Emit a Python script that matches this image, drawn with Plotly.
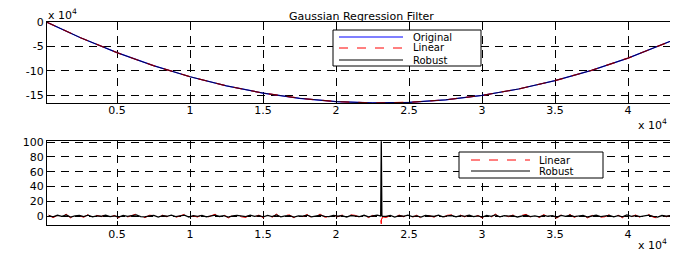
import numpy as np
import plotly.graph_objects as go

# ---- data ----
# Top panel: signal (units of 1e4) vs sample position
top_x = [200, 2500, 5000, 7500, 10000, 12500, 15000, 17500, 20000, 22500,
         25000, 27500, 30000, 32500, 35000, 37500, 40000, 42500, 43500]
original = [0.0, -3.18, -6.25, -8.93, -11.20, -13.08, -14.56, -15.63, -16.31, -16.59,
            -16.47, -15.95, -15.04, -13.72, -12.00, -9.89, -7.37, -4.46, -3.20]
linear_top = list(original)
robust_top = list(original)

# Bottom panel: residual noise sampled on a regular grid
res_start = 320
res_step = 300
robust_res = [
    0.6, -0.9, 1.1, -0.3, 1.5, -1.3, 0.2, 0.8, -0.7, 1.2,
    -1.1, 0.4, -0.2, 1.4, -0.8, 0.3, -1.2, 0.9, -0.4, 0.7,
    1.6, -0.6, -1.0, 0.4, 0.9, -1.4, 0.5, -0.2, 1.2, -0.7,
    0.2, 1.3, -1.2, 0.7, -0.4, 1.0, -0.9, 0.1, 1.4, -0.5,
    0.7, -1.4, 0.4, 1.1, -0.2, -0.8, 1.2, -0.3, 0.6, -1.1,
    0.9, -0.7, 1.6, -0.9, 0.2, 0.7, -1.3, 0.4, -0.1, 1.2,
    -1.0, 0.5, 1.4, -0.4, -0.7, 0.9, -0.2, 0.7, -1.2, 0.8,
    0.3, -0.6, 1.1, -0.9, 0.2, 1.3, 0.4, -0.4, 0.9, -1.2,
    0.7, -0.2, 1.2, -0.8, 0.4, -1.4, 0.9, 0.1, -0.5, 1.4,
    -0.9, 0.4, 0.8, -1.1, 0.6, -0.3, 1.2, -0.7, 0.2, -1.3,
    1.0, -0.4, 1.5, -0.9, 0.5, -0.1, 0.7, -1.2, 0.3, 1.3,
    -0.7, 0.2, -1.0, 1.1, -0.2, 0.7, -1.5, 0.9, -0.4, 1.2,
    -0.7, 0.4, 0.9, -1.2, 0.1, 1.4, -0.6, -0.2, 1.0, -0.9,
    0.5, -1.1, 1.6, -0.3, 0.7, -0.8, 0.4, 1.2, -0.5, -1.4,
    0.8, -0.2, 0.6, -1.0, 1.1,
]
linear_res = [
    1.5, -2.1, 0.9, -1.0, 2.6, -2.4, 1.2, 0.4, -1.6, 2.2,
    -2.0, 1.1, -0.8, 2.5, -1.7, 0.9, -2.3, 1.8, -1.2, 0.3,
    2.8, -1.5, -2.0, 1.2, 0.7, -2.6, 1.3, -1.0, 2.1, -1.7,
    0.8, 2.4, -2.2, 0.2, -1.3, 2.0, -2.0, 0.7, 2.6, -1.4,
    1.6, -2.5, 1.2, 2.1, -0.9, -1.8, 2.3, -1.1, 1.4, -2.2,
    1.8, -1.6, 2.7, -1.9, 0.9, 1.6, -2.4, 1.1, -0.8, 2.2,
    -2.1, 1.3, 2.5, -1.3, -1.7, 1.9, -1.0, 1.5, -2.4, 1.7,
    1.0, -1.5, 2.1, -2.0, 1.1, -1.4, 0.8, -1.9, 0.6, -2.3,
    1.5, -0.9, 2.3, -1.8, 1.2, -2.6, 1.9, 0.7, -1.4, 2.6,
    -1.9, 1.1, 1.7, -2.2, 1.4, -1.1, 2.2, -1.7, 0.9, -2.5,
    2.0, -1.3, 2.7, -2.0, 1.3, -0.8, 1.6, -2.3, 1.0, 2.4,
    -1.6, 0.8, -2.1, 2.1, -1.0, 1.5, -2.8, 1.8, -1.2, 2.3,
    -1.7, 1.2, 1.9, -2.4, 0.7, 2.5, -1.5, -0.9, 2.0, -1.9,
    1.3, -2.2, 2.8, -1.1, 1.6, -1.8, 1.1, 2.2, -1.4, -2.6,
    1.7, -1.0, 1.4, -2.1, 2.1,
]
# Outlier region around sample 23 100
spike_x = [23020, 23060, 23100, 23140, 23180]
robust_spike = [0.3, -0.2, 101.0, 0.4, -0.3]
linear_spike = [-1.5, -5.0, -10.5, -5.5, -1.0]

x_tickvals = [5000, 10000, 15000, 20000, 25000, 30000, 35000, 40000]
x_ticktext = ["0.5", "1", "1.5", "2", "2.5", "3", "3.5", "4"]
top_yticks = [0, -5, -10, -15]
bot_yticks = [0, 20, 40, 60, 80, 100]

# merge grid + outlier region
grid_x = res_start + res_step * np.arange(len(robust_res))
all_x = np.concatenate([grid_x, spike_x])
order = np.argsort(all_x, kind="stable")
res_x = all_x[order]
robust_all = np.concatenate([robust_res, robust_spike])[order]
linear_all = np.concatenate([linear_res, linear_spike])[order]

FONT = "DejaVu Sans, Liberation Sans, Arial, sans-serif"
FS = 11
LFS = 10

# The page body has an 8px margin: work in window pixels, convert to figure pixels
OFF = 8
W, H = 678, 248
PL, PR, PT, PB = 47, 679, 22, 225  # plot area in window pixels
ml, mt = PL - OFF, PT - OFF
mr = W - (PR - OFF)
mb = H - (PB - OFF)
plot_w = PR - PL
plot_h = PB - PT


def px(xw):
    return (xw - PL) / plot_w


def py(yw):
    return (PB - yw) / plot_h


fig = go.Figure()
fig.add_trace(go.Scatter(x=top_x, y=original, mode="lines", name="Original",
                         line=dict(color="#0000ff", width=1.2), xaxis="x", yaxis="y"))
fig.add_trace(go.Scatter(x=top_x, y=linear_top, mode="lines", name="Linear",
                         line=dict(color="#ff0000", width=1.2, dash="dash"), xaxis="x", yaxis="y"))
fig.add_trace(go.Scatter(x=top_x, y=robust_top, mode="lines", name="Robust",
                         line=dict(color="#000000", width=1), opacity=0.7, xaxis="x", yaxis="y"))

fig.add_trace(go.Scatter(x=res_x, y=linear_all, mode="lines", name="Linear",
                         line=dict(color="#ff0000", width=1, dash="dash"), xaxis="x2", yaxis="y2"))
fig.add_trace(go.Scatter(x=res_x, y=robust_all, mode="lines", name="Robust",
                         line=dict(color="#000000", width=1.3), xaxis="x2", yaxis="y2"))

axis_common = dict(showline=True, linecolor="black", linewidth=1, mirror="ticks",
                   ticks="inside", ticklen=4, tickcolor="black",
                   showgrid=True, gridcolor="black", gridwidth=1, griddash="8px,6px",
                   zeroline=False, tickfont=dict(family=FONT, size=FS, color="black"))

x_range = [205, 43490]
fig.update_layout(
    width=W, height=H,
    margin=dict(l=ml, r=mr, t=mt, b=mb, autoexpand=False),
    paper_bgcolor="white", plot_bgcolor="white",
    showlegend=False,
    font=dict(family=FONT, size=FS, color="black"),
    xaxis=dict(range=x_range, domain=[0, 1], anchor="y", ticklabelstandoff=-3,
               tickvals=x_tickvals, ticktext=x_ticktext, **axis_common),
    yaxis=dict(range=[-16.6, 0.05], domain=[py(103), 1], anchor="x",
               tickvals=top_yticks, ticktext=[str(v) for v in top_yticks], **axis_common),
    xaxis2=dict(range=x_range, domain=[0, 1], anchor="y2", ticklabelstandoff=-1,
                tickvals=x_tickvals, ticktext=x_ticktext, **axis_common),
    yaxis2=dict(range=[-12, 101.4], domain=[0, py(141)], anchor="x2",
                tickvals=bot_yticks, ticktext=[str(v) for v in bot_yticks], **axis_common),
)

# Title and exponent labels
fig.add_annotation(text="Gaussian Regression Filter", x=px(361), y=1 + (PT - OFF) / plot_h,
                   xref="paper", yref="paper",
                   xanchor="center", yanchor="top", showarrow=False,
                   font=dict(family=FONT, size=FS, color="black"))
for (xw, yw) in [(46, 14), (636, 125), (636, 244)]:
    fig.add_annotation(text="x 10<sup>4</sup>", x=px(xw), y=py(yw), xref="paper", yref="paper",
                       xanchor="left", yanchor="middle", showarrow=False,
                       font=dict(family=FONT, size=FS, color="black"))

# Legends (boxed, MATLAB style)
def legend_box(x0, y0, x1, y1, entries, lx0, lx1, tx):
    fig.add_shape(type="rect", xref="paper", yref="paper",
                  x0=px(x0), x1=px(x1), y0=py(y0), y1=py(y1),
                  line=dict(color="black", width=1), fillcolor="white", layer="above")
    for (yw, label, color, dash) in entries:
        fig.add_shape(type="line", xref="paper", yref="paper",
                      x0=px(lx0), x1=px(lx1), y0=py(yw), y1=py(yw),
                      line=dict(color=color, width=1, dash=dash), layer="above")
        fig.add_annotation(text=label, x=px(tx), y=py(yw), xref="paper", yref="paper",
                           xanchor="left", yanchor="middle", showarrow=False,
                           font=dict(family=FONT, size=LFS, color="black"))

legend_box(333, 30, 481, 66,
           [(37, "Original", "#0000ff", "solid"),
            (48, "Linear", "#ff0000", "dash"),
            (60, "Robust", "#000000", "solid")],
           339, 403, 411)
legend_box(459, 152, 603, 178,
           [(160, "Linear", "#ff0000", "dash"),
            (171, "Robust", "#000000", "solid")],
           471, 530, 537)

fig.write_html("out.html")
